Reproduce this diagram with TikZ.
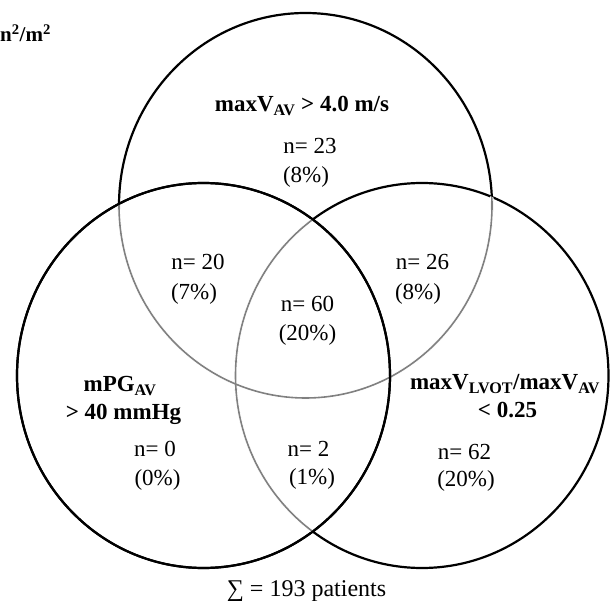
\documentclass[tikz,border=0pt]{standalone}
\usepackage{fontspec}
\setmainfont{Liberation Serif}
\begin{document}
\begin{tikzpicture}[x=1pt,y=-1pt,
  outline/.style={line width=2.2pt,draw=black},
  innerarc/.style={line width=1.6pt,draw=black!50},
  eraser/.style={line width=3.4pt,draw=white},
  lbl/.style={font=\fontsize{23}{26}\selectfont\bfseries, anchor=base, inner sep=0pt},
  cnt/.style={font=\fontsize{23}{26}\selectfont, anchor=base, inner sep=0pt}]
\useasboundingbox (0,0) rectangle (611,601);
\coordinate (T) at (305.5,205.5);
\coordinate (L) at (203.5,375.5);
\coordinate (R) at (422,375.5);
\tikzset{ell/.style={x radius=186.5pt, y radius=192.5pt}}
% base outlines
\draw[outline] (T) ellipse [ell];
\draw[outline] (R) ellipse [ell];
% top circle inside lower-right: gray
\begin{scope}
  \clip (R) ellipse [ell];
  \draw[eraser] (T) ellipse [ell];
  \draw[innerarc] (T) ellipse [ell];
\end{scope}
\draw[outline] (L) ellipse [ell];
% top and lower-right inside lower-left: gray
\begin{scope}
  \clip (L) ellipse [ell];
  \draw[eraser] (T) ellipse [ell];
  \draw[eraser] (R) ellipse [ell];
  \draw[innerarc] (T) ellipse [ell];
  \draw[innerarc] (R) ellipse [ell];
\end{scope}
\draw[outline] (L) ellipse [ell];

% labels
\node[lbl, font=\fontsize{21}{24}\selectfont\bfseries, anchor=base west] (unit) at (0,42) {n\textsuperscript{2}/m\textsuperscript{2}};
\node[lbl] (labT) at (302,112) {maxV\textsubscript{AV} > 4.0 m/s};
\node[lbl] (labL1) at (120,392) {mPG\textsubscript{AV}};
\node[lbl] (labL2) at (123.5,420) {> 40 mmHg};
\node[lbl] (labR1) at (505,390) {maxV\textsubscript{LVOT}/maxV\textsubscript{AV}};
\node[lbl] (labR2) at (507.5,418) {< 0.25};

\node[cnt] (nT) at (310,154) {n= 23};
\node[cnt] (pT) at (306,183) {(8\%)};
\node[cnt] (nTL) at (198,270) {n= 20};
\node[cnt] (pTL) at (194,300) {(7\%)};
\node[cnt] (nTR) at (422.5,270) {n= 26};
\node[cnt] (pTR) at (418,300) {(8\%)};
\node[cnt] (nC) at (307.5,312) {n= 60};
\node[cnt] (pC) at (307.5,341) {(20\%)};
\node[cnt] (nL) at (155,457) {n= 0};
\node[cnt] (pL) at (157.5,486) {(0\%)};
\node[cnt] (nLR) at (308.5,457) {n= 2};
\node[cnt] (pLR) at (312,485) {(1\%)};
\node[cnt] (nR) at (464.5,460) {n= 62};
\node[cnt] (pR) at (466,487) {(20\%)};
\node[cnt, font=\fontsize{24}{26}\selectfont] (sum) at (306.5,596) {∑ = 193 patients};
\end{tikzpicture}
\end{document}
